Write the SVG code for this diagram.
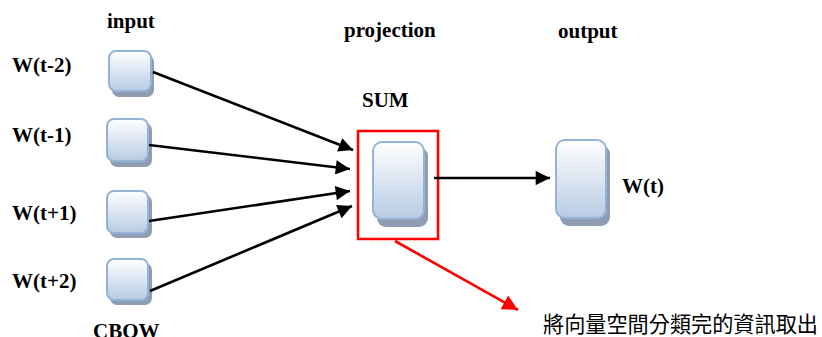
<svg xmlns="http://www.w3.org/2000/svg" width="822" height="337" viewBox="0 0 822 337">
<style>
.lbl{font-family:"Liberation Serif","Times New Roman",serif;font-weight:bold;font-size:21px;fill:#000}
.cjk{font-family:"Noto Sans CJK TC","Noto Sans CJK SC",sans-serif;font-size:22px;fill:#000}
.box{fill:url(#g);stroke:#95b3d7;stroke-width:2}
.sh{fill:#8f9db3}
.con{stroke:#000;stroke-width:2.6;fill:none;marker-end:url(#ah)}
.red{stroke:#ff0000;stroke-width:2.6;fill:none;marker-end:url(#rh)}
</style>
<defs>
<linearGradient id="g" x1="0" y1="0" x2="0" y2="1">
<stop offset="0" stop-color="#ffffff"/>
<stop offset="1" stop-color="#b8cbe4"/>
</linearGradient>
<marker id="ah" viewBox="0 0 10 10" refX="10" refY="5" markerWidth="7" markerHeight="5.5" markerUnits="strokeWidth" orient="auto">
<path d="M0,0 L10,5 L0,10 Z" fill="#000"/>
</marker>
<marker id="rh" viewBox="0 0 10 10" refX="10" refY="5" markerWidth="7" markerHeight="6" markerUnits="strokeWidth" orient="auto">
<path d="M0,0 L10,5 L0,10 Z" fill="#ff0000"/>
</marker>
</defs>
<text class="lbl" x="107" y="28">input</text>
<text class="lbl" x="344" y="37">projection</text>
<text class="lbl" x="558" y="38">output</text>
<text class="lbl" x="362" y="107">SUM</text>
<text class="lbl" x="93" y="338">CBOW</text>
<g id="in1">
<rect class="sh" x="112" y="55" width="42" height="42" rx="7"/>
<rect class="box" x="109" y="51" width="42" height="40" rx="7"/>
<text class="lbl" x="12" y="72">W(t-2)</text>
</g>
<g id="in2">
<rect class="sh" x="110" y="123" width="42" height="44" rx="7"/>
<rect class="box" x="107" y="119" width="41" height="42" rx="7"/>
<text class="lbl" x="12" y="142">W(t-1)</text>
</g>
<g id="in3">
<rect class="sh" x="110" y="195" width="42" height="43" rx="7"/>
<rect class="box" x="107" y="191" width="41" height="42" rx="7"/>
<text class="lbl" x="12" y="220">W(t+1)</text>
</g>
<g id="in4">
<rect class="sh" x="110" y="263" width="42" height="42" rx="7"/>
<rect class="box" x="107" y="259" width="41" height="41" rx="7"/>
<text class="lbl" x="12" y="288">W(t+2)</text>
</g>
<g id="sum">
<rect x="358" y="131" width="80" height="108" fill="none" stroke="#ff0000" stroke-width="2.5"/>
<rect class="sh" x="377" y="147" width="51" height="80" rx="9"/>
<rect class="box" x="373" y="142" width="51" height="77" rx="9"/>
</g>
<g id="out">
<rect class="sh" x="560" y="145" width="50" height="81" rx="9"/>
<rect class="box" x="556" y="140" width="50" height="78" rx="9"/>
<text class="lbl" x="622" y="193">W(t)</text>
</g>
<g id="connectors">
<line class="con" x1="153" y1="72" x2="353" y2="150"/>
<line class="con" x1="149" y1="145" x2="350" y2="169"/>
<line class="con" x1="149" y1="221" x2="350" y2="191"/>
<line class="con" x1="150" y1="291" x2="352" y2="206"/>
<line class="con" x1="434" y1="178" x2="550" y2="178"/>
<line class="red" x1="395" y1="241" x2="518" y2="310"/>
</g>
<text class="cjk" x="543" y="332" textLength="275" lengthAdjust="spacingAndGlyphs">將向量空間分類完的資訊取出</text>
</svg>
